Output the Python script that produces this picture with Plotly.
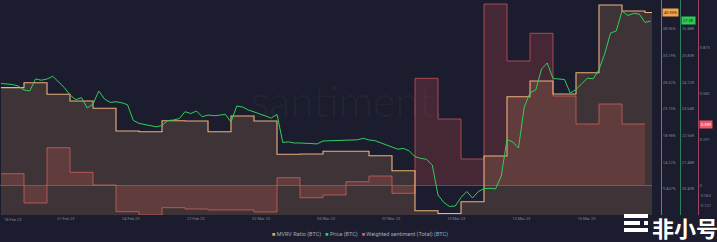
import plotly.graph_objects as go
import pandas as pd

# ---------------- data ----------------
day_dates = list(pd.date_range("2023-02-19", periods=29, freq="D"))
mvrv_dates = day_dates + [pd.Timestamp("2023-03-19 08:00")]
mvrv = [27.53, 28.42, 26.35, 25.15, 23.85, 19.79, 19.67, 21.63, 21.58, 19.67,
        22.47, 21.58, 15.63, 15.69, 16.17, 16.17, 15.38, 12.70, 5.56, 5.06,
        7.17, 15.33, 25.92, 28.72, 26.40, 30.20, 42.29, 41.22, 40.95, 40.95]

sentiment = [0.0746, -0.1107, 0.2391, 0.0835, 0.003, -0.1657, -0.1866, -0.1404, -0.1487, -0.1550,
             -0.1550, -0.1676, 0.0493, -0.0772, -0.0601, 0.0240, 0.0601, -0.0493, 0.6781, 0.4207,
             0.1676, 1.1482, 0.7876, 0.9628, 0.5662, 0.3890, 0.5156, 0.3890, 0.3890]

price_dates = pd.date_range("2023-02-19 00:00", periods=114, freq="6h")
price = [24663, 24651, 24623, 24562, 24401, 24360, 24845, 24797, 24845, 24955,
         24732, 24502, 24198, 24012, 24089, 23672, 23834, 24360, 24037, 23895,
         23927, 23883, 23806, 23175, 23050, 23013, 22969, 22912, 22965, 23163,
         23187, 23244, 23523, 23446, 23551, 23317, 23390, 23361, 23381, 23418,
         23106, 23753, 23713, 23592, 23515, 23434, 23361, 23264, 23414, 22281,
         22301, 22257, 22257, 22245, 22232, 22220, 22338, 22342, 22346, 22370,
         22354, 22366, 22386, 22447, 22378, 22354, 22261, 22184, 22071, 22006,
         22038, 21937, 21703, 21634, 21597, 21367, 20153, 19854, 19688, 19708,
         20052, 20295, 20032, 20291, 20408, 20424, 20396, 20922, 22398, 22297,
         22054, 23713, 24287, 24401, 25250, 25493, 24866, 24854, 24825, 24279,
         24417, 24663, 24874, 24858, 25230, 25865, 26706, 26787, 27596, 27414,
         27495, 27475, 27131, 27192]

x_ticks = ["2023-02-18 23:31", "2023-02-21 19:27", "2023-02-24 15:23", "2023-02-27 11:18",
           "2023-03-02 07:14", "2023-03-05 03:10", "2023-03-07 23:05", "2023-03-10 19:01",
           "2023-03-13 14:57", "2023-03-16 10:53"]
mvrv_ticks = [42.83, 38.06, 33.29, 28.52, 23.75, 18.98, 14.22, 9.457]
price_ticks = [27960, 26880, 25800, 24720, 23640, 22560, 21480, 20400]
sent_ticks = [1.164, 0.873, 0.582, 0.291, 0, -0.063, -0.127]

x_range = ["2023-02-18 22:57", "2023-03-19 07:18"]
mvrv_range = [4.792, 43.187]
price_range = [19344, 28041]
sent_range = [-0.1866, 1.1735]

# ---------------- style ----------------
BG = "#1b1d2e"
C_MVRV = "#f0b07a"
C_PRICE = "#2fcf5a"
C_SENT = "#c8545c"
TICK_C = "#7f8398"

fig = go.Figure()
fig.add_trace(go.Scatter(x=day_dates, y=sentiment, yaxis="y", mode="lines",
                         line=dict(color=C_SENT, width=0.8, shape="hv"),
                         fill="tozeroy", fillcolor="rgba(205,70,80,0.24)",
                         name="Weighted sentiment (Total) (BTC)", hoverinfo="skip"))
fig.add_trace(go.Scatter(x=mvrv_dates, y=mvrv, yaxis="y2", mode="lines",
                         line=dict(color=C_MVRV, width=1.1, shape="hv"),
                         fill="tozeroy", fillcolor="rgba(240,165,100,0.17)",
                         name="MVRV Ratio (BTC)", hoverinfo="skip"))
fig.add_trace(go.Scatter(x=price_dates, y=price, yaxis="y3", mode="lines",
                         line=dict(color=C_PRICE, width=1),
                         name="Price (BTC)", hoverinfo="skip"))

W, H = 717, 242
plot_bottom = 215
xdom_end = 652 / W
pos_mvrv = 661 / W
pos_price = 680 / W
pos_sent = 698 / W

tickfont = dict(size=4, color=TICK_C, family="Roboto")

fig.update_layout(
    width=W, height=H,
    margin=dict(l=0, r=0, t=0, b=H - plot_bottom),
    paper_bgcolor=BG, plot_bgcolor=BG,
    showlegend=False,
    xaxis=dict(domain=[0, xdom_end], range=x_range, showgrid=False, zeroline=False,
               showline=False, ticks="",
               tickvals=x_ticks[1:],
               ticktext=[pd.Timestamp(t).strftime("%d %b %y") for t in x_ticks[1:]],
               tickfont=tickfont),
    yaxis=dict(range=sent_range, anchor="free", position=pos_sent, side="right",
               showline=True, linecolor="#9c4563", linewidth=1, showgrid=False,
               zeroline=True, zerolinecolor="rgba(215,110,110,0.45)", zerolinewidth=1,
               ticks="", tickvals=sent_ticks,
               ticktext=[("%.3f" % v) if v != 0 else "0" for v in sent_ticks],
               tickfont=tickfont),
    yaxis2=dict(range=mvrv_range, overlaying="y", anchor="free", position=pos_mvrv,
                side="right", showline=True, linecolor="#9a6a4c", linewidth=1,
                showgrid=False, zeroline=False, ticks="", tickvals=mvrv_ticks,
                ticktext=[(("%.2f" % v) if v >= 10 else ("%.3f" % v)) + "%" for v in mvrv_ticks],
                tickfont=tickfont),
    yaxis3=dict(range=price_range, overlaying="y", anchor="free", position=pos_price,
                side="right", showline=True, linecolor="#2f7d5c", linewidth=1,
                showgrid=False, zeroline=False, ticks="", tickvals=price_ticks,
                ticktext=["%.2fK" % (v / 1000) for v in price_ticks],
                tickfont=tickfont),
)

# first x tick label (kept inside the plot edge)
fig.add_annotation(x=x_ticks[0], y=-(4 / plot_bottom), xref="x", yref="paper",
                   text=pd.Timestamp(x_ticks[0]).strftime("%d %b %y"), showarrow=False,
                   xanchor="left", yanchor="middle", xshift=1, font=tickfont)

# last value boxes
fig.add_annotation(x=pos_mvrv, y=mvrv[-1], xref="paper", yref="y2",
                   text="%.2f%%" % mvrv[-1], showarrow=False, xanchor="left", xshift=1,
                   bgcolor="#f2a64e", borderpad=1,
                   font=dict(size=4, color="#2a1d10", family="Roboto"))
fig.add_annotation(x=pos_price, y=price[-1], xref="paper", yref="y3",
                   text="%.1fK" % (price[-1] / 1000), showarrow=False, xanchor="left", xshift=1,
                   bgcolor="#2ecc55", borderpad=1,
                   font=dict(size=4, color="#0f2a16", family="Roboto"))
fig.add_annotation(x=pos_sent, y=sentiment[-1], xref="paper", yref="y",
                   text="%.3f" % sentiment[-1], showarrow=False, xanchor="left", xshift=1,
                   bgcolor="#f0556a", borderpad=1,
                   font=dict(size=4, color="#ffffff", family="Roboto"))

# santiment watermark
fig.add_annotation(x=347 / W, y=(plot_bottom - 100) / plot_bottom,
                   xref="paper", yref="paper", text="santiment.", showarrow=False,
                   xanchor="center", yanchor="middle",
                   font=dict(size=43, color="rgba(255,255,255,0.045)", family="Lato", weight=300))

# legend
legend_text = ('<span style="color:%s">■</span> MVRV Ratio (BTC)   '
               '<span style="color:%s">■</span> Price (BTC)   '
               '<span style="color:%s">■</span> Weighted sentiment (Total) (BTC)') % (
    "#f2a64e", C_PRICE, "#f0556a")
fig.add_annotation(x=360 / W, y=-(19 / plot_bottom), xref="paper", yref="paper",
                   text=legend_text, showarrow=False, xanchor="center", yanchor="middle",
                   font=dict(size=5.5, color="#a4a8ba", family="Roboto"))

# 非小号 watermark logo
for (x0, x1, y0, y1) in [(624, 648, 214, 218), (624, 640, 221, 225), (644, 648, 221, 225),
                         (624, 648, 228, 232)]:
    fig.add_shape(type="rect", xref="paper", yref="paper",
                  x0=x0 / W, x1=x1 / W,
                  y0=(plot_bottom - y1) / plot_bottom, y1=(plot_bottom - y0) / plot_bottom,
                  fillcolor="white", line=dict(width=0), layer="above")
fig.add_annotation(x=685 / W, y=(plot_bottom - 227) / plot_bottom, xref="paper", yref="paper",
                   text="非小号", showarrow=False, xanchor="center", yanchor="middle",
                   font=dict(size=22, color="white", family="Noto Sans CJK SC", weight=700))

fig.write_html("out.html")
